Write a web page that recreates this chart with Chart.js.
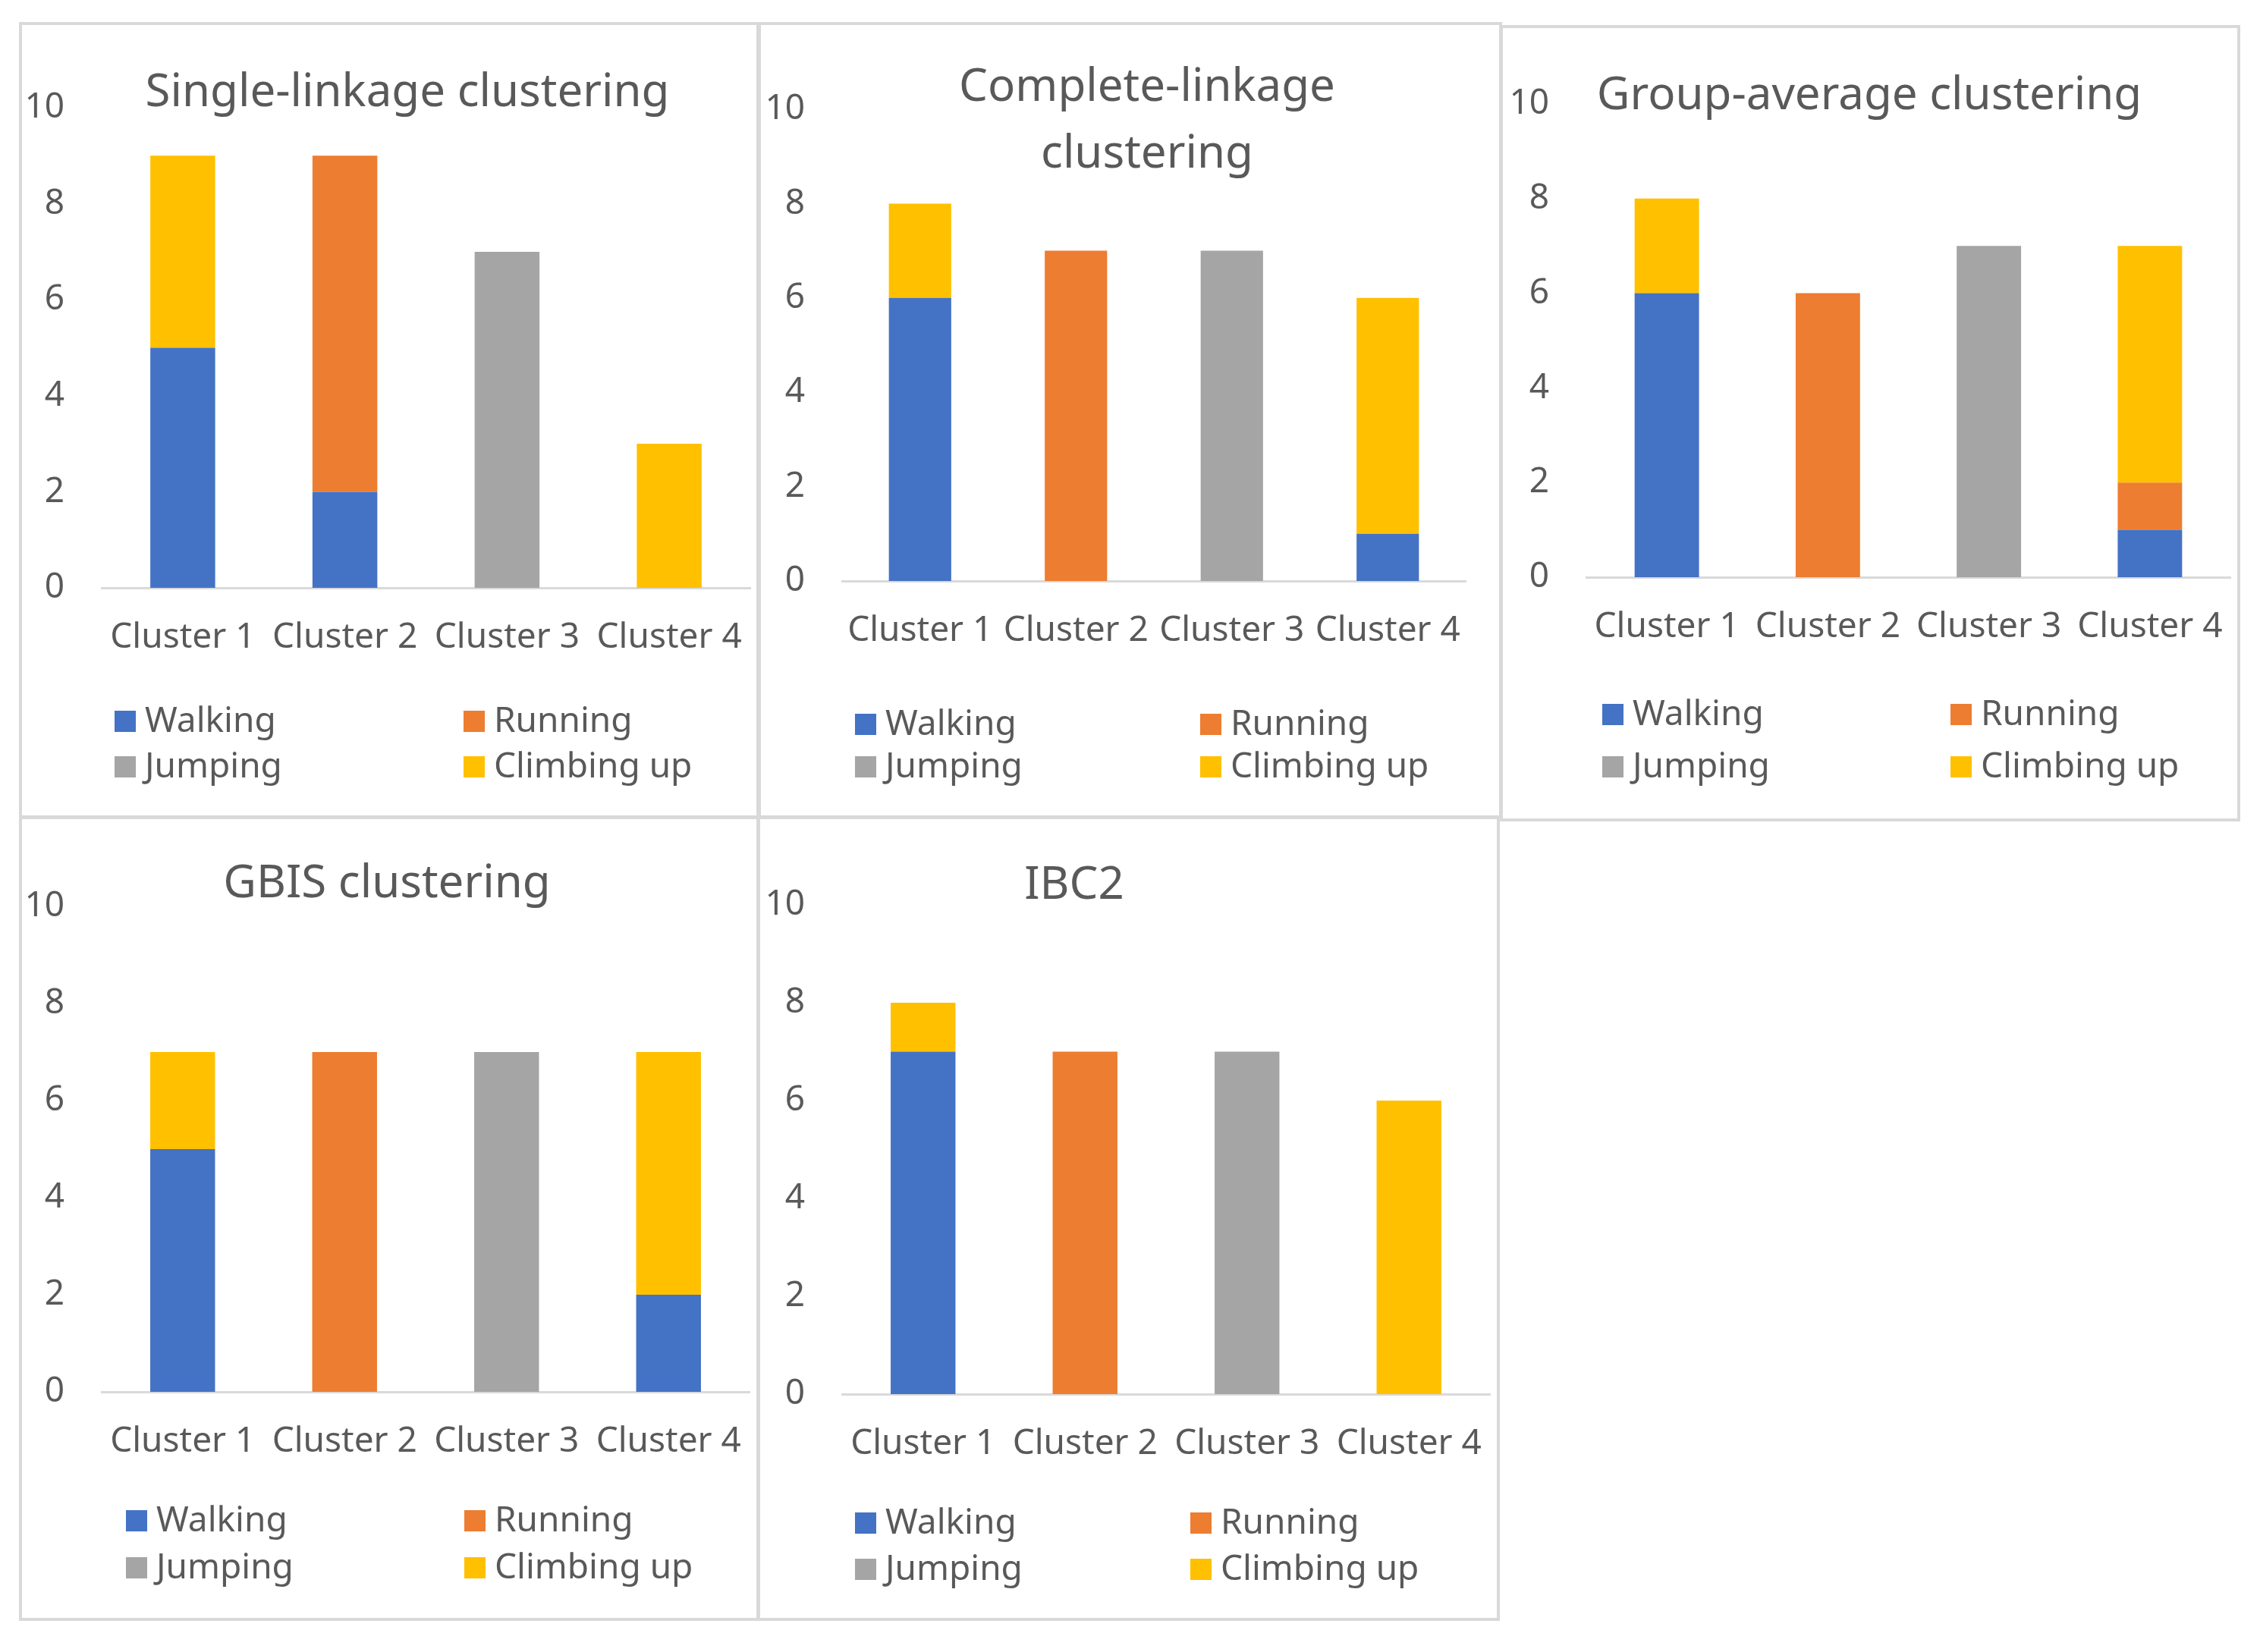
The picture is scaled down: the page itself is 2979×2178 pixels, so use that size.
<!DOCTYPE html>
<html>
<head>
<meta charset="utf-8">
<script src="https://cdn.jsdelivr.net/npm/chart.js@4.4.1/dist/chart.umd.min.js"></script>
<style>
  body { margin: 0; background: #fff; width: 2979px; height: 2178px; position: relative; overflow: hidden; font-family: 'Noto Sans', sans-serif; }
  .panel { position: absolute; box-sizing: border-box; border: 4px solid #d9d9d9; pointer-events: none; }
  canvas { position: absolute; }
  .lg { position: absolute; display: flex; align-items: center; transform: translateY(-50%); font-size: 46px; color: #595959; white-space: nowrap; line-height: 1; }
  .lg i { display: inline-block; width: 28px; height: 28px; margin-right: 12px; }
  .lg span { position: relative; top: -4px; }
</style>
</head>
<body>
<script>
// Chart data
const categories = ['Cluster 1', 'Cluster 2', 'Cluster 3', 'Cluster 4'];
const activities = ['Walking', 'Running', 'Jumping', 'Climbing up'];
const activityColors = ['#4472C4', '#ED7D31', '#A5A5A5', '#FFC000'];
const yTicks = [0, 2, 4, 6, 8, 10];
const titles = [
    ['Single-linkage clustering'],
    ['Complete-linkage', 'clustering'],
    ['Group-average clustering'],
    ['GBIS clustering'],
    ['IBC2']
];

// counts per activity (rows: Walking, Running, Jumping, Climbing up) and cluster (columns)
const singleLinkage   = [[5, 2, 0, 0], [0, 7, 0, 0], [0, 0, 7, 0], [4, 0, 0, 3]];
const completeLinkage = [[6, 0, 0, 1], [0, 7, 0, 0], [0, 0, 7, 0], [2, 0, 0, 5]];
const groupAverage    = [[6, 0, 0, 1], [0, 6, 0, 1], [0, 0, 7, 0], [2, 0, 0, 5]];
const gbis            = [[5, 0, 0, 2], [0, 7, 0, 0], [0, 0, 7, 0], [2, 0, 0, 5]];
const ibc2            = [[7, 0, 0, 0], [0, 7, 0, 0], [0, 0, 7, 0], [1, 0, 0, 6]];
const panelData = [singleLinkage, completeLinkage, groupAverage, gbis, ibc2];

// Page layout (pixels): panel box, plot area, title, legend spots
const panels = [
    { box: { l: 25, t: 29, r: 1001, b: 1079 }, area: { l: 134, r: 989, t: 142, b: 775 }, titleX: 537, titleY: [140], cols: [151, 611], rows: [951, 1011] },
    { box: { l: 999, t: 29, r: 1980, b: 1079 }, area: { l: 1110, r: 1932, t: 144, b: 766 }, titleX: 1512, titleY: [133, 221], cols: [1127, 1582], rows: [955, 1011] },
    { box: { l: 1977, t: 33, r: 2953, b: 1083 }, area: { l: 2091, r: 2940, t: 137, b: 761 }, titleX: 2464, titleY: [144], cols: [2112, 2571], rows: [942, 1011] },
    { box: { l: 25, t: 1076, r: 1001, b: 2137 }, area: { l: 134, r: 988, t: 1195, b: 1835 }, titleX: 510, titleY: [1183], cols: [166, 612], rows: [2005, 2067] },
    { box: { l: 998, t: 1076, r: 1977, b: 2137 }, area: { l: 1110, r: 1964, t: 1193, b: 1838 }, titleX: 1416, titleY: [1185], cols: [1127, 1569], rows: [2008, 2069] }
];

const FONT = "'Noto Sans', sans-serif";
const TEXT = '#595959';
const X_AXIS_H = 120;

// Draws the title lines at a set spot inside the panel
const panelTitle = {
    id: 'panelTitle',
    afterDraw(chart, args, opts) {
        const ctx = chart.ctx;
        ctx.save();
        ctx.fillStyle = TEXT;
        ctx.font = '60px ' + FONT;
        ctx.textAlign = 'center';
        ctx.textBaseline = 'alphabetic';
        opts.lines.forEach((line, i) => ctx.fillText(line, opts.x, opts.y[i]));
        ctx.restore();
    }
};

panels.forEach((p, idx) => {
    const w = p.box.r - p.box.l;
    const h = p.box.b - p.box.t;

    const canvas = document.createElement('canvas');
    canvas.width = w;
    canvas.height = h;
    canvas.style.left = p.box.l + 'px';
    canvas.style.top = p.box.t + 'px';
    canvas.style.width = w + 'px';
    canvas.style.height = h + 'px';
    document.body.appendChild(canvas);

    const border = document.createElement('div');
    border.className = 'panel';
    border.style.left = p.box.l + 'px';
    border.style.top = p.box.t + 'px';
    border.style.width = w + 'px';
    border.style.height = h + 'px';
    document.body.appendChild(border);

    const datasets = activities.map((name, i) => ({
        label: name,
        data: panelData[idx][i],
        backgroundColor: activityColors[i],
        borderWidth: 0,
        barPercentage: 0.4,
        categoryPercentage: 1.0
    }));

    const chart = new Chart(canvas, {
        type: 'bar',
        data: { labels: categories, datasets: datasets },
        plugins: [panelTitle],
        options: {
            responsive: false,
            animation: false,
            devicePixelRatio: 1,
            layout: {
                padding: {
                    left: 0,
                    top: p.area.t - p.box.t,
                    right: p.box.r - p.area.r,
                    bottom: h - (p.area.b - p.box.t) - X_AXIS_H
                }
            },
            plugins: {
                legend: { display: false },
                title: { display: false },
                tooltip: { enabled: false },
                panelTitle: {
                    lines: titles[idx],
                    x: p.titleX - p.box.l,
                    y: p.titleY.map(v => v - p.box.t)
                }
            },
            scales: {
                x: {
                    stacked: true,
                    grid: { display: false, drawTicks: false },
                    border: { display: true, color: '#d9d9d9', width: 3 },
                    ticks: { color: TEXT, font: { family: FONT, size: 46 }, padding: 38, maxRotation: 0, autoSkip: false },
                    afterFit: axis => {
                        axis.height = X_AXIS_H;
                        axis.paddingLeft = 0;
                        axis.paddingRight = 0;
                    }
                },
                y: {
                    stacked: true,
                    min: 0,
                    max: 10,
                    grid: { display: false, drawTicks: false },
                    border: { display: false },
                    ticks: { color: TEXT, font: { family: FONT, size: 46 }, padding: 49 },
                    afterBuildTicks: axis => { axis.ticks = yTicks.map(v => ({ value: v })); },
                    afterFit: axis => {
                        axis.width = p.area.l - p.box.l;
                        axis.paddingTop = 0;
                        axis.paddingBottom = 0;
                    }
                }
            }
        }
    });

    // Legend in two columns, built from the chart's datasets
    chart.data.datasets.forEach((ds, i) => {
        const item = document.createElement('div');
        item.className = 'lg';
        item.style.left = p.cols[i % 2] + 'px';
        item.style.top = p.rows[Math.floor(i / 2)] + 'px';
        const swatch = document.createElement('i');
        swatch.style.background = ds.backgroundColor;
        const label = document.createElement('span');
        label.textContent = ds.label;
        item.appendChild(swatch);
        item.appendChild(label);
        document.body.appendChild(item);
    });
});
</script>
</body>
</html>
